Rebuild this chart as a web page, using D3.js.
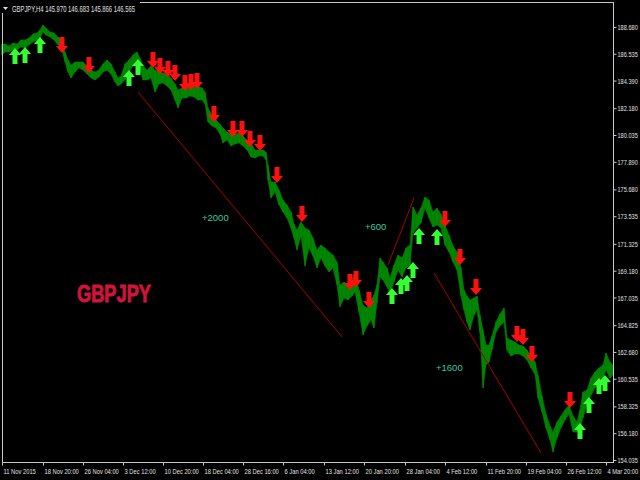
<!DOCTYPE html>
<html>
<head>
<meta charset="utf-8">
<script src="https://cdn.jsdelivr.net/npm/d3@7"></script>
<style>
html,body{margin:0;padding:0;background:#000;}
svg{display:block;}
</style>
</head>
<body>
<svg id="chart" width="640" height="480"></svg>
<script>
// ---- DATA ----
const symbol = "GBPJPY";
const headerText = "GBPJPY,H4  145.970 146.683 145.866 146.565";
// bar index (H4 bars since 11 Nov 2015)
const bars = [0,3,7,11,15,19,23,27,31,35,38,41,44,48,52,56,60,63,66,69,73,77,81,85,89,93,97,101,105,109,113,116,119,123,127,131,135,138,141,145,149,153,157,161,165,169,173,176,180,184,188,192,196,200,203,206,210,214,218,221,225,229,233,237,241,245,249,253,257,261,264,266,269,273,277,281,285,289,292,295,299,303,307,311,315,319,323,327,331,335,338,342,346,350,353,357,361,365,369,372,375,378,381,385,388,392,396,400,404,408,411,415,419,423,427,431,435,439,443,447,451,455,459,462,465,468,472,475,478,481,484,487,490,494,498,502,505,509,513,517,521,525,529,533,536,540,544,548,551,555,559,563,567,571,575,578,581,585,589,593,597,601,604,608,611];
const highs = [187.32,187.32,187.16,187.40,187.32,187.64,187.64,187.80,188.12,188.20,188.44,188.84,188.60,188.28,188.20,187.88,187.64,186.68,186.04,185.64,185.88,185.88,185.88,185.56,185.24,185.08,185.24,185.72,186.04,185.72,185.08,184.60,184.76,185.72,186.04,186.44,186.68,186.20,185.56,185.24,185.56,185.24,185.08,185.00,184.92,184.60,184.12,183.64,183.80,183.80,183.96,183.96,183.96,183.80,183.48,182.20,181.64,181.24,180.92,180.60,180.28,180.12,180.12,180.20,179.96,179.64,179.40,178.84,178.84,178.84,178.68,177.64,176.28,176.28,175.64,174.84,174.44,173.88,172.92,172.44,173.08,172.60,172.44,171.80,170.84,171.24,171.00,170.68,170.44,169.88,168.04,168.28,168.04,168.44,169.08,167.64,166.44,166.20,166.84,167.24,168.04,170.20,169.88,169.40,168.60,169.64,170.44,170.20,171.00,171.24,174.28,173.64,174.20,175.08,174.84,173.88,174.20,173.72,172.84,172.04,171.16,170.68,169.40,167.64,167.16,166.84,167.00,167.16,165.64,164.44,163.24,163.24,163.96,165.08,165.72,166.20,163.80,163.64,163.48,163.24,163.16,162.84,162.36,161.88,160.84,159.16,157.72,156.76,156.28,157.08,157.56,158.04,158.44,157.56,157.08,158.04,159.48,159.64,160.60,161.08,161.40,161.64,162.60,161.88,161.64];
const lows = [186.44,186.68,186.68,186.84,186.84,187.08,187.00,187.24,187.48,187.64,187.80,188.28,188.04,187.88,187.64,187.24,186.84,185.88,185.08,184.60,185.08,185.40,185.24,184.92,184.60,184.44,184.68,185.08,185.24,184.92,184.28,183.96,184.12,184.44,185.08,185.56,186.04,185.24,184.44,184.44,184.60,183.48,184.12,184.20,183.96,183.64,182.84,182.20,183.00,183.00,183.16,183.08,182.84,182.84,182.52,181.08,180.76,180.60,180.12,179.40,179.64,179.16,179.32,179.40,179.16,178.84,178.28,178.20,178.36,178.36,178.04,176.44,175.00,175.48,174.44,173.88,173.40,172.60,171.80,170.84,171.96,169.56,171.00,170.36,169.40,170.20,169.56,169.08,169.40,168.04,166.28,167.00,166.84,167.16,167.48,165.88,164.04,164.76,165.24,164.60,166.60,168.68,168.44,167.88,167.40,168.28,169.24,168.68,169.40,169.64,172.20,172.60,173.00,174.20,173.40,172.68,172.84,172.60,171.24,170.68,169.88,169.24,167.16,166.04,165.08,164.44,165.64,166.04,164.20,159.80,161.64,161.88,162.84,164.28,164.76,165.08,162.84,162.36,162.52,162.52,162.36,162.04,161.40,160.92,159.00,157.88,156.60,155.64,154.68,155.80,156.60,157.24,157.72,156.28,156.28,156.60,157.40,158.52,159.24,159.80,160.12,160.60,161.24,160.60,160.84];
// signal arrows: bar index and tip price
const buyBars = [13,23,38,127,136,390,399,405,411,417,435,578,587,597,603];
const buyPrices = [187.00,187.08,187.88,185.24,186.12,167.80,168.60,168.84,169.88,172.60,172.52,157.00,159.08,160.60,160.84];
const sellBars = [60,87,151,158,166,173,183,189,195,212,231,240,248,258,275,300,348,354,367,443,458,474,515,521,530,568];
const sellPrices = [186.60,185.00,185.40,184.92,184.68,184.36,183.56,183.64,183.72,181.08,179.88,179.88,179.08,178.76,176.20,173.08,167.64,167.88,166.20,172.68,169.64,167.24,163.48,163.24,161.88,158.20];
// trend lines and profit labels
const trendStartBars = [136,386,432];
const trendStartPrices = [183.48,169.64,169.00];
const trendEndBars = [340,412,539];
const trendEndPrices = [163.88,175.00,154.60];
const profitLabels = ["+2000","+600","+1600"];
const profitBars = [200,363,434];
const profitPrices = [173.40,172.68,161.40];
// axes
const yTicks = [188.680,186.535,184.390,182.180,180.035,177.890,175.680,173.535,171.325,169.180,167.035,164.825,162.680,160.535,158.325,156.180,154.035];
const xTickBars = [0,41,81,121,161,201,241,281,322,362,403,443,484,524,564,604];
const xTickLabels = ["11 Nov 2015","18 Nov 20:00","26 Nov 04:00","3 Dec 12:00","10 Dec 20:00","18 Dec 04:00","28 Dec 16:00","6 Jan 04:00","13 Jan 12:00","20 Jan 20:00","28 Jan 04:00","4 Feb 12:00","11 Feb 20:00","19 Feb 04:00","26 Feb 12:00","4 Mar 20:00"];

// ---- DRAW ----
const svg = d3.select("#chart");
const W = 640, H = 480;
const L = 2, R = 613, T = 2, B = 462;
svg.append("rect").attr("width", W).attr("height", H).attr("fill", "#000");

const x = d3.scaleLinear().domain([0, 611]).range([L, R]);
const y = d3.scaleLinear().domain([153.875, 190.675]).range([B, T]);

const font = "'Liberation Sans',Arial,sans-serif";
const axisCol = "#c8c8c8";
const txtCol = "#e0e0e0";

// price band
const pts = bars.map((b, i) => ({b, h: highs[i], l: lows[i]}));
const area = d3.area().x(d => x(d.b)).y0(d => y(d.l)).y1(d => y(d.h));
svg.append("path").datum(pts).attr("d", area)
  .attr("fill", "#008000").attr("stroke", "#008000").attr("stroke-width", 0.6);
svg.append("g").selectAll("line").data(pts).join("line")
  .attr("x1", d => x(d.b)).attr("x2", d => x(d.b))
  .attr("y1", d => y(d.h)).attr("y2", d => y(d.l))
  .attr("stroke", "#008c00").attr("stroke-width", 1);

// trend lines
svg.append("g").selectAll("line").data(trendStartBars).join("line")
  .attr("x1", d => x(d)).attr("y1", (d, i) => y(trendStartPrices[i]))
  .attr("x2", (d, i) => x(trendEndBars[i])).attr("y2", (d, i) => y(trendEndPrices[i]))
  .attr("stroke", "#a80000").attr("stroke-width", 1);

// arrows
function downArrow(cx, ty) {
  return `M${cx-2.5},${ty-16}L${cx+2.5},${ty-16}L${cx+2.5},${ty-7}L${cx+6},${ty-7}L${cx},${ty}L${cx-6},${ty-7}L${cx-2.5},${ty-7}Z`;
}
function upArrow(cx, ty) {
  return `M${cx-2.5},${ty+16}L${cx+2.5},${ty+16}L${cx+2.5},${ty+7}L${cx+6},${ty+7}L${cx},${ty}L${cx-6},${ty+7}L${cx-2.5},${ty+7}Z`;
}
svg.append("g").selectAll("path").data(sellBars).join("path")
  .attr("d", (d, i) => downArrow(x(d), y(sellPrices[i])))
  .attr("fill", "#ff1010");
svg.append("g").selectAll("path").data(buyBars).join("path")
  .attr("d", (d, i) => upArrow(x(d), y(buyPrices[i])))
  .attr("fill", "#33ff33");

// profit labels
svg.append("g").selectAll("text").data(profitLabels).join("text")
  .attr("x", (d, i) => x(profitBars[i])).attr("y", (d, i) => y(profitPrices[i]))
  .attr("dy", "0.35em")
  .attr("fill", "#3cc8a0").attr("font-family", font).attr("font-size", 9.5)
  .text(d => d);

// symbol watermark
svg.append("text").attr("x", 77).attr("y", 302)
  .attr("fill", "#d0143c").attr("stroke", "#d0143c").attr("stroke-width", 0.9)
  .attr("font-family", font).attr("font-weight", "bold")
  .attr("font-size", 24).attr("textLength", 74).attr("lengthAdjust", "spacingAndGlyphs")
  .text(symbol);

// frame
svg.append("rect").attr("x", L + 0.5).attr("y", T + 0.5).attr("width", R - L).attr("height", B - T)
  .attr("fill", "none").attr("stroke", axisCol).attr("stroke-width", 1);

// right axis
const yAxis = d3.axisRight(y).tickValues(yTicks).tickSize(3).tickPadding(2).tickFormat(d3.format(".3f"));
const gy = svg.append("g").attr("transform", `translate(${R + 0.5},0)`).call(yAxis);
gy.select(".domain").remove();
gy.selectAll("line").attr("stroke", axisCol);
gy.selectAll("text").attr("fill", txtCol).attr("font-family", font).attr("font-size", 7.8)
  .attr("x", 0).attr("transform", "translate(4,0) scale(0.72,1)");

// bottom axis
const xAxis = d3.axisBottom(x).tickValues(xTickBars).tickSize(3).tickPadding(3).tickFormat((d, i) => xTickLabels[i]);
const gx = svg.append("g").attr("transform", `translate(0,${B + 0.5})`).call(xAxis);
gx.select(".domain").remove();
gx.selectAll("line").attr("stroke", axisCol);
gx.selectAll("text").attr("fill", txtCol).attr("font-family", font).attr("font-size", 7.8)
  .attr("text-anchor", "start").attr("transform", "translate(1,0) scale(0.74,1)");

// header
svg.append("rect").attr("x", 0).attr("y", 0).attr("width", 140).attr("height", 13).attr("fill", "#000");
svg.append("path").attr("d", "M3,7L8,7L5.5,10Z").attr("fill", "#e0e0e0");
svg.append("text").attr("x", 12).attr("y", 12)
  .attr("fill", txtCol).attr("font-family", font).attr("font-size", 8.2)
  .attr("textLength", 123).attr("lengthAdjust", "spacingAndGlyphs")
  .text(headerText);
</script>
</body>
</html>
